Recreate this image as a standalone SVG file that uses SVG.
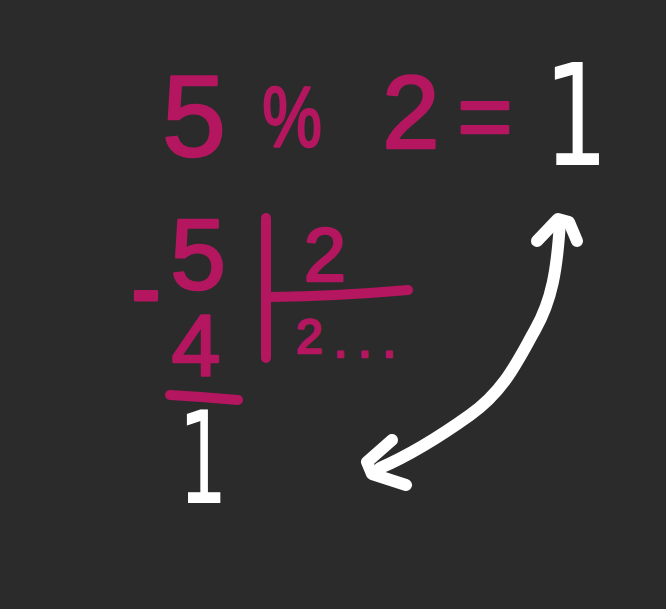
<svg xmlns="http://www.w3.org/2000/svg" width="666" height="609" viewBox="0 0 666 609">
<style>
.p{fill:#b4165f;stroke:#b4165f;stroke-width:2.5;stroke-linejoin:round;font-family:"Liberation Sans",Arial,sans-serif;text-anchor:middle}
.w{fill:#ffffff;font-family:"DejaVu Sans",sans-serif;text-anchor:middle}
.pl{fill:none;stroke:#b4165f;stroke-width:10;stroke-linecap:round;stroke-linejoin:round}
.wl{fill:none;stroke:#ffffff;stroke-width:12;stroke-linecap:round;stroke-linejoin:round}
</style>
<rect width="666" height="609" fill="#2b2b2b"/>
<g id="equation">
<text class="p" x="194" y="156" font-size="115">5</text>
<text class="p" transform="translate(292,147) scale(0.78,1)" font-size="86" stroke-width="3.5">%</text>
<text class="p" x="411" y="148" font-size="103">2</text>
<text class="p" x="485" y="149" font-size="95">=</text>
<text class="w" transform="translate(576,165) scale(0.72,1)" font-size="141">1</text>
</g>
<g id="division">
<text class="p" transform="translate(146,325) scale(0.9,1.1)" font-size="100" stroke-width="4">-</text>
<text class="p" x="198" y="289" font-size="100">5</text>
<text class="p" x="196" y="376" font-size="88">4</text>
<path class="pl" d="M266,218 L266,358"/>
<text class="p" x="325" y="281" font-size="76">2</text>
<path class="pl" d="M270,297 Q340,296 408,290"/>
<text class="p" x="296" y="353" font-size="48" stroke-width="3" style="text-anchor:start" letter-spacing="11">2<tspan dy="4">...</tspan></text>
<path class="pl" d="M170,395 Q205,397 238,400"/>
<text class="w" transform="translate(203,503) scale(0.6,1)" font-size="128">1</text>
</g>
<g id="connectors">
<path class="wl" d="M560,222 C557,270 552,300 535,330 S505,390 470,415 S410,455 380,468"/>
<path class="wl" d="M537,241 L558,219 L569,222 L577,241"/>
<path class="wl" d="M392,440 L367,462 L372,474 L406,485"/>
</g>
</svg>
